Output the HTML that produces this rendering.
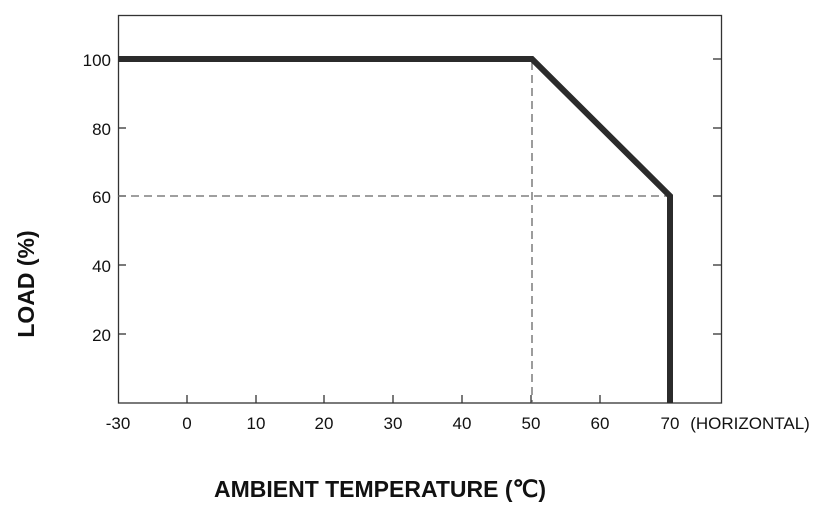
<!DOCTYPE html>
<html><head><style>body{margin:0;background:#fff}</style></head><body>
<svg width="815" height="511" xmlns="http://www.w3.org/2000/svg" font-family="Liberation Sans, Arial, sans-serif">
<rect x="118.5" y="15.5" width="603" height="387.5" fill="none" stroke="#333" stroke-width="1.3"/>
<g stroke="#333" stroke-width="1.3">
<line x1="187" y1="403" x2="187" y2="395"/><line x1="256" y1="403" x2="256" y2="395"/><line x1="324" y1="403" x2="324" y2="395"/><line x1="393" y1="403" x2="393" y2="395"/><line x1="462" y1="403" x2="462" y2="395"/><line x1="531" y1="403" x2="531" y2="395"/><line x1="600" y1="403" x2="600" y2="395"/><line x1="670" y1="403" x2="670" y2="395"/>
<line x1="713" y1="59" x2="721" y2="59"/><line x1="713" y1="128" x2="721" y2="128"/><line x1="713" y1="196" x2="721" y2="196"/><line x1="713" y1="265" x2="721" y2="265"/><line x1="713" y1="334" x2="721" y2="334"/>
<line x1="118" y1="59" x2="126" y2="59"/><line x1="118" y1="128" x2="126" y2="128"/><line x1="118" y1="196" x2="126" y2="196"/><line x1="118" y1="265" x2="126" y2="265"/><line x1="118" y1="334" x2="126" y2="334"/>
</g>
<g stroke="#666" stroke-width="1.3" stroke-dasharray="8,5" fill="none">
<line x1="532" y1="62" x2="532" y2="403"/><line x1="118" y1="196" x2="668" y2="196"/>
</g>
<polyline points="118,59 532,59 670,196 670,403" fill="none" stroke="#2b2b2b" stroke-width="6" stroke-linejoin="miter"/>
<g font-size="17" fill="#111" text-anchor="middle">
<text x="118" y="429">-30</text><text x="187" y="429">0</text><text x="256" y="429">10</text><text x="324" y="429">20</text><text x="393" y="429">30</text><text x="462" y="429">40</text><text x="531" y="429">50</text><text x="600" y="429">60</text><text x="670" y="429">70</text>
<text x="750" y="429">(HORIZONTAL)</text>
</g>
<g font-size="17" fill="#111" text-anchor="end">
<text x="111" y="66">100</text><text x="111" y="135">80</text><text x="111" y="203">60</text><text x="111" y="272">40</text><text x="111" y="341">20</text>
</g>
<text x="380" y="497" font-size="23" font-weight="bold" text-anchor="middle" fill="#111">AMBIENT TEMPERATURE (℃)</text>
<text transform="translate(34,284) rotate(-90)" font-size="23" font-weight="bold" text-anchor="middle" fill="#111">LOAD (%)</text>
</svg>
</body></html>
